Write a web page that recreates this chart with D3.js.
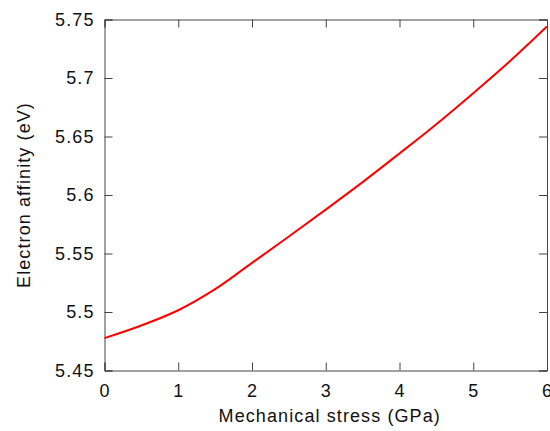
<!doctype html>
<html>
<head>
<script src="https://d3js.org/d3.v7.min.js"></script>
<style>
body { margin: 0; background: white; }
text { font-family: "Liberation Sans", Arial, Helvetica, sans-serif; letter-spacing: 1.1px; }
</style>
</head>
<body>
<svg width="550" height="431" id="chart"></svg>
<script>
// stress in GPa, electron affinity in eV
var stress = [0, 0.5, 1, 1.5, 2, 2.5, 3, 3.5, 4, 4.5, 5, 5.5, 6];
var affinity = [5.4777, 5.4885, 5.5015, 5.5195, 5.542, 5.5645, 5.5875, 5.611, 5.6355, 5.6605, 5.687, 5.7145, 5.744];
var xTicks = [0, 1, 2, 3, 4, 5, 6];
var yTicks = [5.45, 5.5, 5.55, 5.6, 5.65, 5.7, 5.75];

var mLeft = 104.5, mRight = 547, mTop = 19.5, mBottom = 370.5;
var svg = d3.select("#chart");

var x = d3.scaleLinear().domain([0, 6]).range([mLeft, mRight]);
var y = d3.scaleLinear().domain([5.45, 5.75]).range([mBottom, mTop]);

var fmtY = function(d) { return String(+d.toFixed(2)); };

// inward ticks on all four sides
svg.append("g").attr("transform", "translate(0," + mBottom + ")")
  .call(d3.axisBottom(x).tickValues(xTicks).tickSize(-8).tickPadding(14).tickFormat(d3.format("d")));
svg.append("g").attr("transform", "translate(0," + mTop + ")")
  .call(d3.axisTop(x).tickValues(xTicks).tickSize(-8).tickFormat(""));
svg.append("g").attr("transform", "translate(" + mLeft + ",0)")
  .call(d3.axisLeft(y).tickValues(yTicks).tickSize(-8).tickPadding(10).tickFormat(fmtY));
svg.append("g").attr("transform", "translate(" + mRight + ",0)")
  .call(d3.axisRight(y).tickValues(yTicks).tickSize(-8).tickFormat(""));

svg.selectAll(".domain").attr("stroke", "#444");
svg.selectAll(".tick line").attr("stroke", "#444");
svg.selectAll(".tick text").attr("fill", "#111").style("font-size", "18px");

svg.append("path")
  .datum(stress.map(function(s, i) { return [s, affinity[i]]; }))
  .attr("fill", "none")
  .attr("stroke", "#ff0000")
  .attr("stroke-width", 2)
  .attr("d", d3.line()
    .x(function(d) { return x(d[0]); })
    .y(function(d) { return y(d[1]); })
    .curve(d3.curveMonotoneX));

svg.append("text")
  .attr("x", (mLeft + mRight) / 2 + 4)
  .attr("y", 422)
  .attr("text-anchor", "middle")
  .style("font-size", "18px")
  .attr("fill", "#111")
  .text("Mechanical stress (GPa)");

svg.append("text")
  .attr("transform", "translate(30," + (mTop + mBottom) / 2 + ") rotate(-90)")
  .attr("text-anchor", "middle")
  .style("font-size", "18px")
  .attr("fill", "#111")
  .text("Electron affinity (eV)");
</script>
</body>
</html>
